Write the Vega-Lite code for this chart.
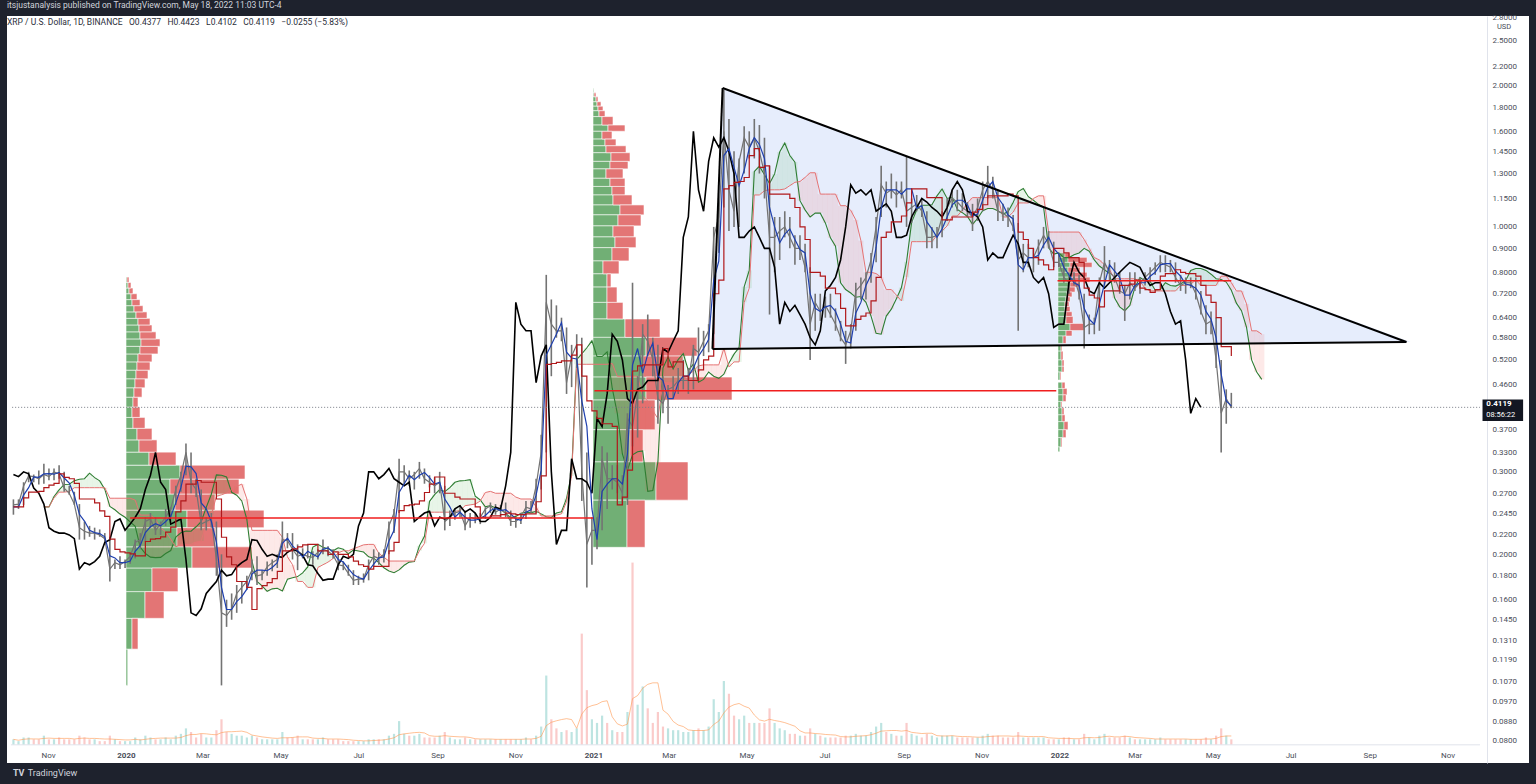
{
"$schema":"https://vega.github.io/schema/vega-lite/v6.json",
"width":1522,"height":747,
"autosize":{"type":"none"},
"padding":{"left":7,"top":16,"right":7,"bottom":21},
"background":"#1e222d",
"config":{"view":{"fill":"#ffffff","stroke":null},"font":"Roboto"},
"title":{"text":"itsjustanalysis published on TradingView.com, May 18, 2022 11:03 UTC-4","subtitle":"XRP / U.S. Dollar, 1D, BINANCE\u2002 O0.4377\u2002 H0.4423\u2002 L0.4102\u2002 C0.4119\u2002 −0.0255 (−5.83%)","anchor":"start","frame":"group","orient":"top","offset":-13,"font":"Roboto","fontSize":8.5,"fontWeight":"normal","color":"#d1d4dc","subtitleFont":"Roboto","subtitleFontSize":8.5,"subtitleColor":"#2a2e39","subtitlePadding":8},
"datasets":{
"px":[
{"d":"2019-10-01","h":0.262,"l":0.243,"c":0.255,"v":3},
{"d":"2019-10-05","h":0.262,"l":0.250,"c":0.256,"v":2},
{"d":"2019-10-09","h":0.285,"l":0.255,"c":0.280,"v":4},
{"d":"2019-10-13","h":0.300,"l":0.285,"c":0.294,"v":4},
{"d":"2019-10-17","h":0.296,"l":0.285,"c":0.293,"v":3},
{"d":"2019-10-21","h":0.302,"l":0.282,"c":0.290,"v":3},
{"d":"2019-10-25","h":0.312,"l":0.283,"c":0.296,"v":5},
{"d":"2019-10-29","h":0.305,"l":0.288,"c":0.293,"v":3},
{"d":"2019-11-02","h":0.305,"l":0.288,"c":0.300,"v":3},
{"d":"2019-11-06","h":0.310,"l":0.290,"c":0.297,"v":4},
{"d":"2019-11-10","h":0.300,"l":0.272,"c":0.277,"v":3},
{"d":"2019-11-14","h":0.280,"l":0.268,"c":0.270,"v":3},
{"d":"2019-11-18","h":0.272,"l":0.255,"c":0.256,"v":3},
{"d":"2019-11-22","h":0.256,"l":0.215,"c":0.228,"v":5},
{"d":"2019-11-26","h":0.235,"l":0.215,"c":0.224,"v":4},
{"d":"2019-11-30","h":0.230,"l":0.218,"c":0.222,"v":3},
{"d":"2019-12-04","h":0.228,"l":0.215,"c":0.222,"v":3},
{"d":"2019-12-08","h":0.226,"l":0.218,"c":0.220,"v":2},
{"d":"2019-12-12","h":0.222,"l":0.210,"c":0.216,"v":2},
{"d":"2019-12-16","h":0.218,"l":0.175,"c":0.186,"v":5},
{"d":"2019-12-20","h":0.195,"l":0.186,"c":0.192,"v":3},
{"d":"2019-12-24","h":0.198,"l":0.186,"c":0.190,"v":2},
{"d":"2019-12-28","h":0.195,"l":0.187,"c":0.193,"v":2},
{"d":"2020-01-01","h":0.200,"l":0.191,"c":0.198,"v":2},
{"d":"2020-01-05","h":0.215,"l":0.196,"c":0.212,"v":4},
{"d":"2020-01-09","h":0.222,"l":0.205,"c":0.215,"v":3},
{"d":"2020-01-13","h":0.240,"l":0.213,"c":0.235,"v":5},
{"d":"2020-01-17","h":0.245,"l":0.228,"c":0.238,"v":4},
{"d":"2020-01-21","h":0.240,"l":0.220,"c":0.225,"v":3},
{"d":"2020-01-25","h":0.235,"l":0.220,"c":0.232,"v":3},
{"d":"2020-01-29","h":0.250,"l":0.230,"c":0.240,"v":4},
{"d":"2020-02-02","h":0.252,"l":0.235,"c":0.250,"v":3},
{"d":"2020-02-06","h":0.280,"l":0.255,"c":0.275,"v":5},
{"d":"2020-02-10","h":0.300,"l":0.272,"c":0.295,"v":6},
{"d":"2020-02-14","h":0.345,"l":0.295,"c":0.330,"v":9},
{"d":"2020-02-18","h":0.330,"l":0.270,"c":0.285,"v":7},
{"d":"2020-02-22","h":0.290,"l":0.265,"c":0.275,"v":4},
{"d":"2020-02-26","h":0.275,"l":0.225,"c":0.232,"v":6},
{"d":"2020-03-01","h":0.240,"l":0.225,"c":0.235,"v":4},
{"d":"2020-03-05","h":0.245,"l":0.228,"c":0.238,"v":4},
{"d":"2020-03-09","h":0.235,"l":0.180,"c":0.195,"v":8},
{"d":"2020-03-13","h":0.200,"l":0.105,"c":0.150,"v":14},
{"d":"2020-03-17","h":0.160,"l":0.140,"c":0.148,"v":7},
{"d":"2020-03-21","h":0.165,"l":0.145,"c":0.153,"v":6},
{"d":"2020-03-25","h":0.172,"l":0.150,"c":0.165,"v":5},
{"d":"2020-03-29","h":0.175,"l":0.157,"c":0.170,"v":5},
{"d":"2020-04-02","h":0.180,"l":0.168,"c":0.175,"v":4},
{"d":"2020-04-06","h":0.195,"l":0.176,"c":0.185,"v":5},
{"d":"2020-04-10","h":0.198,"l":0.172,"c":0.180,"v":4},
{"d":"2020-04-14","h":0.185,"l":0.176,"c":0.181,"v":3},
{"d":"2020-04-18","h":0.193,"l":0.180,"c":0.188,"v":3},
{"d":"2020-04-22","h":0.195,"l":0.184,"c":0.192,"v":3},
{"d":"2020-04-26","h":0.200,"l":0.187,"c":0.195,"v":3},
{"d":"2020-04-30","h":0.235,"l":0.198,"c":0.215,"v":7},
{"d":"2020-05-04","h":0.222,"l":0.206,"c":0.214,"v":4},
{"d":"2020-05-08","h":0.222,"l":0.195,"c":0.205,"v":4},
{"d":"2020-05-12","h":0.210,"l":0.185,"c":0.198,"v":5},
{"d":"2020-05-16","h":0.206,"l":0.196,"c":0.200,"v":3},
{"d":"2020-05-20","h":0.210,"l":0.196,"c":0.198,"v":3},
{"d":"2020-05-24","h":0.203,"l":0.190,"c":0.197,"v":3},
{"d":"2020-05-28","h":0.205,"l":0.195,"c":0.202,"v":3},
{"d":"2020-06-01","h":0.215,"l":0.200,"c":0.205,"v":4},
{"d":"2020-06-05","h":0.208,"l":0.198,"c":0.203,"v":3},
{"d":"2020-06-09","h":0.205,"l":0.196,"c":0.199,"v":3},
{"d":"2020-06-13","h":0.200,"l":0.185,"c":0.190,"v":3},
{"d":"2020-06-17","h":0.193,"l":0.185,"c":0.189,"v":2},
{"d":"2020-06-21","h":0.190,"l":0.180,"c":0.182,"v":2},
{"d":"2020-06-25","h":0.185,"l":0.172,"c":0.176,"v":2},
{"d":"2020-06-29","h":0.180,"l":0.172,"c":0.177,"v":2},
{"d":"2020-07-03","h":0.182,"l":0.174,"c":0.177,"v":2},
{"d":"2020-07-07","h":0.195,"l":0.176,"c":0.190,"v":3},
{"d":"2020-07-11","h":0.205,"l":0.188,"c":0.198,"v":3},
{"d":"2020-07-15","h":0.202,"l":0.190,"c":0.196,"v":3},
{"d":"2020-07-19","h":0.205,"l":0.192,"c":0.200,"v":3},
{"d":"2020-07-23","h":0.235,"l":0.200,"c":0.230,"v":5},
{"d":"2020-07-27","h":0.250,"l":0.222,"c":0.245,"v":6},
{"d":"2020-07-31","h":0.320,"l":0.245,"c":0.300,"v":13},
{"d":"2020-08-04","h":0.310,"l":0.280,"c":0.300,"v":6},
{"d":"2020-08-08","h":0.302,"l":0.280,"c":0.290,"v":5},
{"d":"2020-08-12","h":0.300,"l":0.275,"c":0.296,"v":5},
{"d":"2020-08-16","h":0.315,"l":0.290,"c":0.305,"v":6},
{"d":"2020-08-20","h":0.305,"l":0.283,"c":0.290,"v":4},
{"d":"2020-08-24","h":0.295,"l":0.278,"c":0.285,"v":4},
{"d":"2020-08-28","h":0.292,"l":0.270,"c":0.280,"v":4},
{"d":"2020-09-01","h":0.300,"l":0.270,"c":0.285,"v":5},
{"d":"2020-09-05","h":0.280,"l":0.225,"c":0.235,"v":7},
{"d":"2020-09-09","h":0.248,"l":0.230,"c":0.240,"v":4},
{"d":"2020-09-13","h":0.250,"l":0.237,"c":0.245,"v":3},
{"d":"2020-09-17","h":0.255,"l":0.240,"c":0.247,"v":3},
{"d":"2020-09-21","h":0.248,"l":0.225,"c":0.230,"v":4},
{"d":"2020-09-25","h":0.245,"l":0.228,"c":0.240,"v":3},
{"d":"2020-09-29","h":0.245,"l":0.233,"c":0.238,"v":3},
{"d":"2020-10-03","h":0.245,"l":0.232,"c":0.240,"v":3},
{"d":"2020-10-07","h":0.252,"l":0.238,"c":0.250,"v":3},
{"d":"2020-10-11","h":0.258,"l":0.245,"c":0.254,"v":3},
{"d":"2020-10-15","h":0.256,"l":0.243,"c":0.246,"v":3},
{"d":"2020-10-19","h":0.255,"l":0.240,"c":0.250,"v":3},
{"d":"2020-10-23","h":0.258,"l":0.240,"c":0.245,"v":3},
{"d":"2020-10-27","h":0.248,"l":0.230,"c":0.235,"v":3},
{"d":"2020-10-31","h":0.240,"l":0.228,"c":0.235,"v":3},
{"d":"2020-11-04","h":0.245,"l":0.232,"c":0.240,"v":3},
{"d":"2020-11-08","h":0.260,"l":0.238,"c":0.252,"v":4},
{"d":"2020-11-12","h":0.260,"l":0.245,"c":0.250,"v":3},
{"d":"2020-11-16","h":0.290,"l":0.245,"c":0.280,"v":5},
{"d":"2020-11-20","h":0.360,"l":0.275,"c":0.330,"v":10},
{"d":"2020-11-24","h":0.790,"l":0.330,"c":0.690,"v":38},
{"d":"2020-11-28","h":0.700,"l":0.480,"c":0.620,"v":14},
{"d":"2020-12-02","h":0.680,"l":0.580,"c":0.600,"v":9},
{"d":"2020-12-06","h":0.640,"l":0.570,"c":0.600,"v":7},
{"d":"2020-12-10","h":0.610,"l":0.440,"c":0.465,"v":8},
{"d":"2020-12-14","h":0.560,"l":0.455,"c":0.530,"v":7},
{"d":"2020-12-18","h":0.590,"l":0.500,"c":0.560,"v":9},
{"d":"2020-12-22","h":0.580,"l":0.260,"c":0.300,"v":61},
{"d":"2020-12-26","h":0.330,"l":0.170,"c":0.210,"v":30},
{"d":"2020-12-30","h":0.240,"l":0.190,"c":0.225,"v":14},
{"d":"2021-01-03","h":0.240,"l":0.205,"c":0.225,"v":12},
{"d":"2021-01-07","h":0.340,"l":0.225,"c":0.320,"v":16},
{"d":"2021-01-11","h":0.330,"l":0.250,"c":0.290,"v":12},
{"d":"2021-01-15","h":0.310,"l":0.275,"c":0.290,"v":8},
{"d":"2021-01-19","h":0.310,"l":0.270,"c":0.285,"v":7},
{"d":"2021-01-23","h":0.295,"l":0.255,"c":0.270,"v":7},
{"d":"2021-01-27","h":0.400,"l":0.255,"c":0.390,"v":18},
{"d":"2021-01-31","h":0.760,"l":0.340,"c":0.375,"v":100},
{"d":"2021-02-04","h":0.480,"l":0.355,"c":0.440,"v":22},
{"d":"2021-02-08","h":0.620,"l":0.420,"c":0.590,"v":32},
{"d":"2021-02-12","h":0.650,"l":0.530,"c":0.570,"v":20},
{"d":"2021-02-16","h":0.580,"l":0.480,"c":0.520,"v":12},
{"d":"2021-02-20","h":0.560,"l":0.380,"c":0.430,"v":18},
{"d":"2021-02-24","h":0.480,"l":0.400,"c":0.420,"v":10},
{"d":"2021-02-28","h":0.460,"l":0.380,"c":0.450,"v":9},
{"d":"2021-03-04","h":0.480,"l":0.430,"c":0.455,"v":8},
{"d":"2021-03-08","h":0.500,"l":0.440,"c":0.470,"v":8},
{"d":"2021-03-12","h":0.520,"l":0.450,"c":0.470,"v":7},
{"d":"2021-03-16","h":0.500,"l":0.440,"c":0.470,"v":7},
{"d":"2021-03-20","h":0.560,"l":0.450,"c":0.550,"v":8},
{"d":"2021-03-24","h":0.610,"l":0.490,"c":0.540,"v":9},
{"d":"2021-03-28","h":0.600,"l":0.530,"c":0.570,"v":8},
{"d":"2021-04-01","h":0.620,"l":0.540,"c":0.600,"v":10},
{"d":"2021-04-05","h":1.000,"l":0.590,"c":0.950,"v":25},
{"d":"2021-04-09","h":1.100,"l":0.880,"c":1.050,"v":18},
{"d":"2021-04-13","h":1.960,"l":1.100,"c":1.600,"v":35},
{"d":"2021-04-17","h":1.700,"l":0.980,"c":1.200,"v":28},
{"d":"2021-04-21","h":1.450,"l":1.000,"c":1.080,"v":16},
{"d":"2021-04-25","h":1.400,"l":1.000,"c":1.380,"v":14},
{"d":"2021-04-29","h":1.640,"l":1.300,"c":1.550,"v":16},
{"d":"2021-05-03","h":1.600,"l":1.400,"c":1.480,"v":12},
{"d":"2021-05-07","h":1.700,"l":1.400,"c":1.550,"v":12},
{"d":"2021-05-11","h":1.650,"l":1.300,"c":1.450,"v":12},
{"d":"2021-05-15","h":1.550,"l":1.150,"c":1.300,"v":12},
{"d":"2021-05-19","h":1.350,"l":0.650,"c":0.950,"v":20},
{"d":"2021-05-23","h":1.050,"l":0.800,"c":0.950,"v":12},
{"d":"2021-05-27","h":1.050,"l":0.850,"c":0.980,"v":9},
{"d":"2021-05-31","h":1.080,"l":0.950,"c":1.000,"v":8},
{"d":"2021-06-04","h":1.050,"l":0.900,"c":0.950,"v":6},
{"d":"2021-06-08","h":0.960,"l":0.830,"c":0.900,"v":6},
{"d":"2021-06-12","h":0.960,"l":0.850,"c":0.900,"v":5},
{"d":"2021-06-16","h":0.920,"l":0.800,"c":0.820,"v":5},
{"d":"2021-06-20","h":0.820,"l":0.520,"c":0.620,"v":9},
{"d":"2021-06-24","h":0.720,"l":0.600,"c":0.690,"v":6},
{"d":"2021-06-28","h":0.720,"l":0.630,"c":0.660,"v":5},
{"d":"2021-07-02","h":0.710,"l":0.640,"c":0.680,"v":4},
{"d":"2021-07-06","h":0.720,"l":0.640,"c":0.650,"v":4},
{"d":"2021-07-10","h":0.670,"l":0.600,"c":0.620,"v":4},
{"d":"2021-07-14","h":0.630,"l":0.570,"c":0.580,"v":4},
{"d":"2021-07-18","h":0.600,"l":0.510,"c":0.560,"v":5},
{"d":"2021-07-22","h":0.620,"l":0.550,"c":0.600,"v":5},
{"d":"2021-07-26","h":0.760,"l":0.600,"c":0.730,"v":6},
{"d":"2021-07-30","h":0.780,"l":0.700,"c":0.750,"v":5},
{"d":"2021-08-03","h":0.800,"l":0.700,"c":0.780,"v":5},
{"d":"2021-08-07","h":0.880,"l":0.760,"c":0.850,"v":7},
{"d":"2021-08-11","h":1.050,"l":0.840,"c":1.000,"v":10},
{"d":"2021-08-15","h":1.350,"l":1.050,"c":1.230,"v":12},
{"d":"2021-08-19","h":1.250,"l":1.100,"c":1.180,"v":7},
{"d":"2021-08-23","h":1.300,"l":1.150,"c":1.200,"v":6},
{"d":"2021-08-27","h":1.250,"l":1.100,"c":1.170,"v":5},
{"d":"2021-08-31","h":1.250,"l":1.150,"c":1.200,"v":5},
{"d":"2021-09-04","h":1.410,"l":1.000,"c":1.080,"v":12},
{"d":"2021-09-08","h":1.150,"l":1.020,"c":1.100,"v":6},
{"d":"2021-09-12","h":1.170,"l":1.080,"c":1.120,"v":5},
{"d":"2021-09-16","h":1.150,"l":1.050,"c":1.080,"v":4},
{"d":"2021-09-20","h":1.080,"l":0.900,"c":0.950,"v":6},
{"d":"2021-09-24","h":1.000,"l":0.900,"c":0.950,"v":5},
{"d":"2021-09-28","h":1.000,"l":0.900,"c":0.960,"v":4},
{"d":"2021-10-02","h":1.080,"l":0.950,"c":1.050,"v":5},
{"d":"2021-10-06","h":1.150,"l":1.030,"c":1.100,"v":5},
{"d":"2021-10-10","h":1.200,"l":1.100,"c":1.150,"v":5},
{"d":"2021-10-14","h":1.200,"l":1.080,"c":1.130,"v":4},
{"d":"2021-10-18","h":1.180,"l":1.080,"c":1.100,"v":4},
{"d":"2021-10-22","h":1.130,"l":1.050,"c":1.080,"v":4},
{"d":"2021-10-26","h":1.120,"l":0.980,"c":1.050,"v":4},
{"d":"2021-10-30","h":1.150,"l":1.030,"c":1.100,"v":4},
{"d":"2021-11-03","h":1.250,"l":1.080,"c":1.200,"v":5},
{"d":"2021-11-07","h":1.350,"l":1.150,"c":1.250,"v":6},
{"d":"2021-11-11","h":1.280,"l":1.150,"c":1.200,"v":5},
{"d":"2021-11-15","h":1.200,"l":1.030,"c":1.080,"v":5},
{"d":"2021-11-19","h":1.120,"l":1.030,"c":1.070,"v":4},
{"d":"2021-11-23","h":1.100,"l":1.000,"c":1.050,"v":4},
{"d":"2021-11-27","h":1.060,"l":0.980,"c":1.000,"v":4},
{"d":"2021-12-01","h":1.020,"l":0.600,"c":0.850,"v":7},
{"d":"2021-12-05","h":0.920,"l":0.800,"c":0.880,"v":4},
{"d":"2021-12-09","h":0.920,"l":0.820,"c":0.860,"v":4},
{"d":"2021-12-13","h":0.900,"l":0.800,"c":0.860,"v":4},
{"d":"2021-12-17","h":0.940,"l":0.830,"c":0.910,"v":4},
{"d":"2021-12-21","h":1.000,"l":0.900,"c":0.960,"v":4},
{"d":"2021-12-25","h":0.980,"l":0.900,"c":0.920,"v":3},
{"d":"2021-12-29","h":0.930,"l":0.820,"c":0.840,"v":3},
{"d":"2022-01-02","h":0.880,"l":0.820,"c":0.840,"v":3},
{"d":"2022-01-06","h":0.860,"l":0.760,"c":0.780,"v":4},
{"d":"2022-01-10","h":0.800,"l":0.720,"c":0.760,"v":4},
{"d":"2022-01-14","h":0.800,"l":0.750,"c":0.780,"v":3},
{"d":"2022-01-18","h":0.790,"l":0.700,"c":0.720,"v":3},
{"d":"2022-01-22","h":0.720,"l":0.550,"c":0.610,"v":6},
{"d":"2022-01-26","h":0.650,"l":0.590,"c":0.620,"v":4},
{"d":"2022-01-30","h":0.640,"l":0.590,"c":0.620,"v":3},
{"d":"2022-02-03","h":0.780,"l":0.600,"c":0.760,"v":5},
{"d":"2022-02-07","h":0.910,"l":0.750,"c":0.840,"v":6},
{"d":"2022-02-11","h":0.850,"l":0.770,"c":0.800,"v":4},
{"d":"2022-02-15","h":0.840,"l":0.760,"c":0.780,"v":4},
{"d":"2022-02-19","h":0.800,"l":0.720,"c":0.730,"v":4},
{"d":"2022-02-23","h":0.750,"l":0.630,"c":0.720,"v":5},
{"d":"2022-02-27","h":0.800,"l":0.700,"c":0.760,"v":4},
{"d":"2022-03-03","h":0.800,"l":0.730,"c":0.740,"v":3},
{"d":"2022-03-07","h":0.780,"l":0.720,"c":0.760,"v":3},
{"d":"2022-03-11","h":0.800,"l":0.750,"c":0.780,"v":3},
{"d":"2022-03-15","h":0.820,"l":0.760,"c":0.800,"v":3},
{"d":"2022-03-19","h":0.840,"l":0.790,"c":0.820,"v":3},
{"d":"2022-03-23","h":0.870,"l":0.800,"c":0.840,"v":4},
{"d":"2022-03-27","h":0.870,"l":0.800,"c":0.830,"v":3},
{"d":"2022-03-31","h":0.850,"l":0.800,"c":0.820,"v":3},
{"d":"2022-04-04","h":0.840,"l":0.760,"c":0.780,"v":3},
{"d":"2022-04-08","h":0.790,"l":0.730,"c":0.750,"v":3},
{"d":"2022-04-12","h":0.780,"l":0.720,"c":0.760,"v":3},
{"d":"2022-04-16","h":0.780,"l":0.740,"c":0.760,"v":3},
{"d":"2022-04-20","h":0.780,"l":0.700,"c":0.720,"v":3},
{"d":"2022-04-24","h":0.730,"l":0.650,"c":0.660,"v":3},
{"d":"2022-04-28","h":0.680,"l":0.590,"c":0.620,"v":4},
{"d":"2022-05-02","h":0.660,"l":0.590,"c":0.630,"v":3},
{"d":"2022-05-06","h":0.640,"l":0.500,"c":0.520,"v":5},
{"d":"2022-05-10","h":0.520,"l":0.330,"c":0.400,"v":9},
{"d":"2022-05-14","h":0.450,"l":0.380,"c":0.430,"v":5},
{"d":"2022-05-18","h":0.4423,"l":0.4102,"c":0.4119,"v":3},
{"d":"2022-05-22"},{"d":"2022-05-26"},{"d":"2022-05-30"},{"d":"2022-06-03"},{"d":"2022-06-07"},{"d":"2022-06-11"}
],
"pa":[
{"lo":0.105,"hi":0.1255,"g":2,"t":2},{"lo":0.1255,"hi":0.146,"g":6,"t":12},{"lo":0.146,"hi":0.1665,"g":19,"t":38},{"lo":0.1665,"hi":0.187,"g":26,"t":52},
{"lo":0.187,"hi":0.2075,"g":66,"t":126},{"lo":0.2075,"hi":0.228,"g":51,"t":89},{"lo":0.228,"hi":0.2485,"g":61,"t":138},{"lo":0.2485,"hi":0.269,"g":49,"t":89},
{"lo":0.269,"hi":0.2895,"g":44,"t":113},{"lo":0.2895,"hi":0.31,"g":54,"t":119},{"lo":0.31,"hi":0.3305,"g":23,"t":50},{"lo":0.3305,"hi":0.351,"g":13,"t":31},
{"lo":0.351,"hi":0.3715,"g":11,"t":26},{"lo":0.3715,"hi":0.392,"g":7,"t":19},{"lo":0.392,"hi":0.4125,"g":6,"t":14},{"lo":0.4125,"hi":0.433,"g":7,"t":12},
{"lo":0.433,"hi":0.4535,"g":8,"t":16},{"lo":0.4535,"hi":0.474,"g":9,"t":19},{"lo":0.474,"hi":0.4945,"g":10,"t":22},{"lo":0.4945,"hi":0.515,"g":11,"t":24},
{"lo":0.515,"hi":0.5355,"g":12,"t":26},{"lo":0.5355,"hi":0.556,"g":14,"t":32},{"lo":0.556,"hi":0.5765,"g":15,"t":34},{"lo":0.5765,"hi":0.597,"g":14,"t":30},
{"lo":0.597,"hi":0.6175,"g":13,"t":26},{"lo":0.6175,"hi":0.638,"g":12,"t":24},{"lo":0.638,"hi":0.6585,"g":10,"t":21},{"lo":0.6585,"hi":0.679,"g":8,"t":17},
{"lo":0.679,"hi":0.6995,"g":6,"t":14},{"lo":0.6995,"hi":0.72,"g":5,"t":11},{"lo":0.72,"hi":0.7405,"g":3,"t":7},{"lo":0.7405,"hi":0.761,"g":2,"t":5},{"lo":0.761,"hi":0.7815,"g":1,"t":3}
],
"pb":[
{"lo":1.933,"hi":1.971,"g":1,"t":1},{"lo":1.896,"hi":1.933,"g":1,"t":3},{"lo":1.85,"hi":1.896,"g":3,"t":5},{"lo":1.81,"hi":1.85,"g":4,"t":8},
{"lo":1.77,"hi":1.81,"g":5,"t":10},{"lo":1.72,"hi":1.77,"g":6,"t":12},{"lo":1.65,"hi":1.72,"g":9,"t":20},{"lo":1.60,"hi":1.65,"g":15,"t":32},
{"lo":1.54,"hi":1.60,"g":9,"t":19},{"lo":1.49,"hi":1.54,"g":12,"t":23},{"lo":1.44,"hi":1.49,"g":13,"t":33},{"lo":1.38,"hi":1.44,"g":18,"t":37},
{"lo":1.33,"hi":1.38,"g":17,"t":35},{"lo":1.27,"hi":1.33,"g":13,"t":30},{"lo":1.22,"hi":1.27,"g":17,"t":32},{"lo":1.17,"hi":1.22,"g":19,"t":32},
{"lo":1.114,"hi":1.17,"g":20,"t":39},{"lo":1.061,"hi":1.114,"g":27,"t":51},{"lo":1.005,"hi":1.061,"g":25,"t":48},{"lo":0.952,"hi":1.005,"g":20,"t":41},
{"lo":0.903,"hi":0.952,"g":22,"t":43},{"lo":0.846,"hi":0.903,"g":19,"t":36},{"lo":0.794,"hi":0.846,"g":10,"t":26},{"lo":0.744,"hi":0.794,"g":14,"t":18},
{"lo":0.690,"hi":0.744,"g":14,"t":24},{"lo":0.636,"hi":0.690,"g":14,"t":30},{"lo":0.581,"hi":0.636,"g":32,"t":67},{"lo":0.530,"hi":0.581,"g":53,"t":104},
{"lo":0.478,"hi":0.530,"g":50,"t":90},{"lo":0.427,"hi":0.478,"g":53,"t":139},{"lo":0.369,"hi":0.427,"g":40,"t":62},{"lo":0.315,"hi":0.369,"g":37,"t":50},
{"lo":0.261,"hi":0.315,"g":63,"t":95},{"lo":0.207,"hi":0.261,"g":34,"t":52}
],
"pc":[
{"lo":0.861,"hi":0.880,"g":7,"t":12},{"lo":0.840,"hi":0.861,"g":10,"t":29},{"lo":0.820,"hi":0.840,"g":12,"t":34},{"lo":0.800,"hi":0.820,"g":10,"t":22},
{"lo":0.781,"hi":0.800,"g":12,"t":29},{"lo":0.762,"hi":0.781,"g":14,"t":32},{"lo":0.744,"hi":0.762,"g":12,"t":22},{"lo":0.726,"hi":0.744,"g":10,"t":17},
{"lo":0.709,"hi":0.726,"g":9,"t":14},{"lo":0.692,"hi":0.709,"g":8,"t":12},{"lo":0.676,"hi":0.692,"g":7,"t":11},{"lo":0.659,"hi":0.676,"g":7,"t":12},
{"lo":0.644,"hi":0.659,"g":8,"t":14},{"lo":0.622,"hi":0.644,"g":8,"t":15},{"lo":0.601,"hi":0.622,"g":12,"t":27},{"lo":0.585,"hi":0.601,"g":8,"t":14},
{"lo":0.564,"hi":0.585,"g":5,"t":8},{"lo":0.543,"hi":0.560,"g":3,"t":4},{"lo":0.520,"hi":0.543,"g":3,"t":5},{"lo":0.504,"hi":0.520,"g":4,"t":6},
{"lo":0.490,"hi":0.504,"g":4,"t":6},{"lo":0.471,"hi":0.490,"g":2,"t":3},{"lo":0.452,"hi":0.466,"g":4,"t":7},{"lo":0.438,"hi":0.452,"g":5,"t":9},
{"lo":0.424,"hi":0.438,"g":5,"t":8},{"lo":0.411,"hi":0.424,"g":3,"t":4},{"lo":0.397,"hi":0.411,"g":4,"t":6},{"lo":0.384,"hi":0.397,"g":4,"t":7},
{"lo":0.369,"hi":0.384,"g":6,"t":10},{"lo":0.355,"hi":0.369,"g":5,"t":8},{"lo":0.339,"hi":0.355,"g":3,"t":4},{"lo":0.331,"hi":0.339,"g":2,"t":2}
],
"tri":[{"d":"2021-04-04","t":0.549,"b":0.549},{"d":"2021-04-12","t":1.98,"b":0.5494},{"d":"2022-10-03","t":0.568,"b":0.568}],
"edges":[{"d1":"2021-04-04","p1":0.549,"d2":"2021-04-12","p2":1.98},{"d1":"2021-04-12","p1":1.98,"d2":"2022-10-03","p2":0.568},{"d1":"2021-04-04","p1":0.549,"d2":"2022-10-03","p2":0.568}],
"poc":[{"d1":"2020-01-01","d2":"2020-12-31","p":0.239},{"d1":"2021-01-01","d2":"2021-12-31","p":0.447},{"d1":"2022-01-01","d2":"2022-05-18","p":0.767}]
},
"resolve":{"scale":{"x":"independent","y":"independent"},"axis":{"x":"independent","y":"independent"}},
"layer":[
{"data":{"name":"tri"},"mark":{"type":"area","color":"#2f6fe8","opacity":0.12},
 "encoding":{"x":{"field":"d","type":"temporal","scale":{"type":"utc","domain":[1569790800000,1672764480000],"nice":false},"axis":null},
  "y":{"field":"t","type":"quantitative","scale":{"type":"log","domain":[0.0717,2.82],"nice":false},"axis":null},"y2":{"field":"b"}}},
{"data":{"name":"pa"},"encoding":{"y":{"field":"lo","type":"quantitative","scale":{"type":"log","domain":[0.0717,2.82],"nice":false},"axis":null},"y2":{"field":"hi"}},
 "layer":[
  {"mark":{"type":"rect","fill":"#5ea562","opacity":0.88,"stroke":"#ffffff","strokeWidth":0.6},"encoding":{"x":{"field":"g","type":"quantitative","scale":{"domain":[-119,1403],"nice":false,"zero":false},"axis":null},"x2":{"datum":0}}},
  {"mark":{"type":"rect","fill":"#e06262","opacity":0.88,"stroke":"#ffffff","strokeWidth":0.6},"encoding":{"x":{"field":"g","type":"quantitative","scale":{"domain":[-119,1403],"nice":false,"zero":false},"axis":null},"x2":{"field":"t"}}}
 ]},
{"data":{"name":"pb"},"encoding":{"y":{"field":"lo","type":"quantitative","scale":{"type":"log","domain":[0.0717,2.82],"nice":false},"axis":null},"y2":{"field":"hi"}},
 "layer":[
  {"mark":{"type":"rect","fill":"#5ea562","opacity":0.88,"stroke":"#ffffff","strokeWidth":0.6},"encoding":{"x":{"field":"g","type":"quantitative","scale":{"domain":[-586,936],"nice":false,"zero":false},"axis":null},"x2":{"datum":0}}},
  {"mark":{"type":"rect","fill":"#e06262","opacity":0.88,"stroke":"#ffffff","strokeWidth":0.6},"encoding":{"x":{"field":"g","type":"quantitative","scale":{"domain":[-586,936],"nice":false,"zero":false},"axis":null},"x2":{"field":"t"}}}
 ]},
{"data":{"name":"pc"},"encoding":{"y":{"field":"lo","type":"quantitative","scale":{"type":"log","domain":[0.0717,2.82],"nice":false},"axis":null},"y2":{"field":"hi"}},
 "layer":[
  {"mark":{"type":"rect","fill":"#5ea562","opacity":0.88,"stroke":"#ffffff","strokeWidth":0.5},"encoding":{"x":{"field":"g","type":"quantitative","scale":{"domain":[-1051,471],"nice":false,"zero":false},"axis":null},"x2":{"datum":0}}},
  {"mark":{"type":"rect","fill":"#e06262","opacity":0.88,"stroke":"#ffffff","strokeWidth":0.5},"encoding":{"x":{"field":"g","type":"quantitative","scale":{"domain":[-1051,471],"nice":false,"zero":false},"axis":null},"x2":{"field":"t"}}}
 ]},
{"data":{"name":"px"},
 "transform":[{"filter":"isValid(datum.c)"},
  {"window":[{"op":"lag","field":"c","param":1,"as":"pc"}],"sort":[{"field":"d"}]},
  {"window":[{"op":"mean","field":"v","as":"vm"}],"sort":[{"field":"d"}],"frame":[-5,0]}],
 "encoding":{"x":{"field":"d","type":"temporal","scale":{"type":"utc","domain":[1569790800000,1672764480000],"nice":false},"axis":null}},
 "layer":[
  {"mark":{"type":"bar","size":2.2,"opacity":0.3},"encoding":{"y":{"field":"v","type":"quantitative","scale":{"domain":[-10,400],"nice":false,"zero":false},"axis":null},"color":{"condition":{"test":"datum.c >= datum.pc","value":"#26a69a"},"value":"#ef5350"}}},
  {"mark":{"type":"line","color":"#ff9850","strokeWidth":1,"opacity":0.6},"encoding":{"y":{"field":"vm","type":"quantitative","scale":{"domain":[-10,400],"nice":false,"zero":false},"axis":null}}}
 ]},
{"layer":[
 {"data":{"name":"px"},
  "transform":[
   {"window":[{"op":"max","field":"h","as":"h9"},{"op":"min","field":"l","as":"l9"}],"sort":[{"field":"d"}],"frame":[-1,0]},
   {"window":[{"op":"max","field":"h","as":"h26"},{"op":"min","field":"l","as":"l26"}],"sort":[{"field":"d"}],"frame":[-6,0]},
   {"window":[{"op":"max","field":"h","as":"h52"},{"op":"min","field":"l","as":"l52"}],"sort":[{"field":"d"}],"frame":[-12,0]},
   {"fold":["h52","l52"],"as":["k1","v1"]},
   {"aggregate":[{"op":"mean","field":"v1","as":"B"}],"groupby":["d","h9","l9","h26","l26"]},
   {"fold":["h9","l9","h26","l26"],"as":["k2","v2"]},
   {"aggregate":[{"op":"mean","field":"v2","as":"A"}],"groupby":["d","B"]},
   {"window":[{"op":"lag","field":"A","param":6,"as":"sa"},{"op":"lag","field":"B","param":6,"as":"sb"}],"sort":[{"field":"d"}]},
   {"filter":"isValid(datum.sa) && isValid(datum.sb)"}],
  "encoding":{"x":{"field":"d","type":"temporal","scale":{"type":"utc","domain":[1569790800000,1672764480000],"nice":false},"axis":null}},
  "layer":[
   {"mark":{"type":"bar","size":5.2,"opacity":0.13},"encoding":{"y":{"field":"sa","type":"quantitative","scale":{"type":"log","domain":[0.0717,2.82],"nice":false},"axis":null},"y2":{"field":"sb"},
     "color":{"condition":{"test":"datum.sa >= datum.sb","value":"#4caf50"},"value":"#ef5350"}}},
   {"mark":{"type":"line","color":"#2e7d32","strokeWidth":1.1},"encoding":{"y":{"field":"sa","type":"quantitative","scale":{"type":"log","domain":[0.0717,2.82],"nice":false},"axis":null}}},
   {"mark":{"type":"line","color":"#e57373","strokeWidth":1},"encoding":{"y":{"field":"sb","type":"quantitative","scale":{"type":"log","domain":[0.0717,2.82],"nice":false},"axis":null}}}
  ]},
 {"data":{"name":"px"},"transform":[{"filter":"isValid(datum.c)"}],
  "encoding":{"x":{"field":"d","type":"temporal","scale":{"type":"utc","domain":[1569790800000,1672764480000],"nice":false},"axis":null}},
  "layer":[
   {"mark":{"type":"rule","color":"#737373","strokeWidth":1.6},"encoding":{"y":{"field":"l","type":"quantitative","scale":{"type":"log","domain":[0.0717,2.82],"nice":false},"axis":null},"y2":{"field":"h"}}},
   {"mark":{"type":"line","color":"#737373","strokeWidth":1.2},"encoding":{"y":{"field":"c","type":"quantitative","scale":{"type":"log","domain":[0.0717,2.82],"nice":false},"axis":null}}}
  ]},
 {"data":{"name":"px"},"transform":[{"filter":"isValid(datum.c)"},{"window":[{"op":"lead","field":"c","param":6,"as":"ck"}],"sort":[{"field":"d"}]},{"filter":"isValid(datum.ck)"}],
  "mark":{"type":"line","color":"#000000","strokeWidth":1.6},
  "encoding":{"x":{"field":"d","type":"temporal","scale":{"type":"utc","domain":[1569790800000,1672764480000],"nice":false},"axis":null},"y":{"field":"ck","type":"quantitative","scale":{"type":"log","domain":[0.0717,2.82],"nice":false},"axis":null}}},
 {"data":{"name":"px"},"transform":[{"filter":"isValid(datum.c)"},
   {"window":[{"op":"max","field":"h","as":"hh"},{"op":"min","field":"l","as":"ll"}],"sort":[{"field":"d"}],"frame":[-1,0]},
   {"fold":["hh","ll"],"as":["k","val"]},{"aggregate":[{"op":"mean","field":"val","as":"tk"}],"groupby":["d"]}],
  "mark":{"type":"line","color":"#1e3fae","strokeWidth":1.2},
  "encoding":{"x":{"field":"d","type":"temporal","scale":{"type":"utc","domain":[1569790800000,1672764480000],"nice":false},"axis":null},"y":{"field":"tk","type":"quantitative","scale":{"type":"log","domain":[0.0717,2.82],"nice":false},"axis":null}}},
 {"data":{"name":"px"},"transform":[{"filter":"isValid(datum.c)"},
   {"window":[{"op":"max","field":"h","as":"hh"},{"op":"min","field":"l","as":"ll"}],"sort":[{"field":"d"}],"frame":[-6,0]},
   {"fold":["hh","ll"],"as":["k","val"]},{"aggregate":[{"op":"mean","field":"val","as":"kj"}],"groupby":["d"]}],
  "mark":{"type":"line","color":"#b0181b","strokeWidth":1.2,"interpolate":"step-after"},
  "encoding":{"x":{"field":"d","type":"temporal","scale":{"type":"utc","domain":[1569790800000,1672764480000],"nice":false},"axis":null},"y":{"field":"kj","type":"quantitative","scale":{"type":"log","domain":[0.0717,2.82],"nice":false},"axis":null}}},
 {"data":{"name":"poc"},"mark":{"type":"rule","color":"#f01e1e","strokeWidth":1.5},
  "encoding":{"x":{"field":"d1","type":"temporal","scale":{"type":"utc","domain":[1569790800000,1672764480000],"nice":false},"axis":null},"x2":{"field":"d2"},"y":{"field":"p","type":"quantitative","scale":{"type":"log","domain":[0.0717,2.82],"nice":false},"axis":null}}},
 {"data":{"name":"edges"},"mark":{"type":"rule","color":"#000000","strokeWidth":2},
  "encoding":{"x":{"field":"d1","type":"temporal","scale":{"type":"utc","domain":[1569790800000,1672764480000],"nice":false},"axis":null},"x2":{"field":"d2"},"y":{"field":"p1","type":"quantitative","scale":{"type":"log","domain":[0.0717,2.82],"nice":false},"axis":null},"y2":{"field":"p2"}}},
 {"data":{"values":[{}]},"mark":{"type":"rule","color":"#787b86","strokeWidth":1,"strokeDash":[1,2]},
  "encoding":{"x":{"datum":{"year":2019,"month":9,"date":30,"utc":true},"type":"temporal","scale":{"type":"utc","domain":[1569790800000,1672764480000],"nice":false},"axis":null},"x2":{"datum":{"year":2022,"month":11,"date":30,"utc":true}},"y":{"datum":0.4119,"type":"quantitative","scale":{"type":"log","domain":[0.0717,2.82],"nice":false},"axis":null}}},
 {"data":{"values":[{}]},"mark":{"type":"rule","color":"#e0e3eb","strokeWidth":1},
  "encoding":{"x":{"datum":{"year":2019,"month":9,"date":29,"utc":true},"type":"temporal","scale":{"type":"utc","domain":[1569790800000,1672764480000],"nice":false},"axis":null},"x2":{"datum":{"year":2022,"month":11,"date":30,"utc":true}},"y":{"datum":0.0784,"type":"quantitative","scale":{"type":"log","domain":[0.0717,2.82],"nice":false},"axis":null}}},
 {"data":{"values":[{}]},"mark":{"type":"rect","color":"#131722"},
  "encoding":{"x":{"datum":{"year":2022,"month":12,"date":2,"utc":true},"type":"temporal","scale":{"type":"utc","domain":[1569790800000,1672764480000],"nice":false},"axis":null},"x2":{"datum":{"year":2023,"month":1,"date":3,"utc":true}},"y":{"datum":0.428,"type":"quantitative","scale":{"type":"log","domain":[0.0717,2.82],"nice":false},"axis":null},"y2":{"datum":0.385}}},
 {"data":{"values":[{}]},"mark":{"type":"text","text":"0.4119","align":"left","baseline":"middle","color":"#ffffff","fontSize":8,"fontWeight":"bold","font":"Roboto"},
  "encoding":{"x":{"datum":{"year":2022,"month":12,"date":5,"utc":true},"type":"temporal","scale":{"type":"utc","domain":[1569790800000,1672764480000],"nice":false},"axis":null},"y":{"datum":0.4185,"type":"quantitative","scale":{"type":"log","domain":[0.0717,2.82],"nice":false},"axis":null}}},
 {"data":{"values":[{}]},"mark":{"type":"text","text":"08:56:22","align":"left","baseline":"middle","color":"#ffffff","fontSize":7.5,"font":"Roboto"},
  "encoding":{"x":{"datum":{"year":2022,"month":12,"date":5,"utc":true},"type":"temporal","scale":{"type":"utc","domain":[1569790800000,1672764480000],"nice":false},"axis":null},"y":{"datum":0.397,"type":"quantitative","scale":{"type":"log","domain":[0.0717,2.82],"nice":false},"axis":null}}},
 {"data":{"values":[{}]},"mark":{"type":"text","text":"USD","align":"center","baseline":"middle","color":"#4a4e59","fontSize":7.5,"font":"Roboto"},
  "encoding":{"x":{"datum":{"year":2022,"month":12,"date":19,"utc":true},"type":"temporal","scale":{"type":"utc","domain":[1569790800000,1672764480000],"nice":false},"axis":null},"y":{"datum":2.673,"type":"quantitative","scale":{"type":"log","domain":[0.0717,2.82],"nice":false},"axis":null}}},
 {"data":{"values":[{}]},"mark":{"type":"text","text":"TV","align":"left","baseline":"middle","color":"#d1d4dc","fontSize":9,"fontWeight":"bold","font":"Roboto"},
  "encoding":{"x":{"datum":{"year":2019,"month":9,"date":30,"hours":14,"utc":true},"type":"temporal","scale":{"type":"utc","domain":[1569790800000,1672764480000],"nice":false},"axis":null},"y":{"datum":0.0683,"type":"quantitative","scale":{"type":"log","domain":[0.0717,2.82],"nice":false},"axis":null}}},
 {"data":{"values":[{}]},"mark":{"type":"text","text":"TradingView","align":"left","baseline":"middle","color":"#d1d4dc","fontSize":9,"font":"Roboto"},
  "encoding":{"x":{"datum":{"year":2019,"month":10,"date":12,"hours":8,"utc":true},"type":"temporal","scale":{"type":"utc","domain":[1569790800000,1672764480000],"nice":false},"axis":null},"y":{"datum":0.0683,"type":"quantitative","scale":{"type":"log","domain":[0.0717,2.82],"nice":false},"axis":null}}}
]},
{"data":{"name":"px"},"transform":[{"filter":"isValid(datum.c)"}],"mark":{"type":"point","opacity":0},
 "encoding":{
  "x":{"field":"d","type":"temporal","scale":{"type":"utc","domain":[1569790800000,1672764480000],"nice":false},
   "axis":{"orient":"bottom","offset":-18,"title":null,"grid":false,"ticks":false,"tickSize":0,"domain":false,"labelPadding":6,"labelFontSize":8,"labelFont":"Roboto","labelColor":"#4a4e59","labelFlush":false,"labelOverlap":false,
    "values":[{"year":2019,"month":11,"date":1,"utc":true},{"year":2020,"month":1,"date":1,"utc":true},{"year":2020,"month":3,"date":1,"utc":true},{"year":2020,"month":5,"date":1,"utc":true},{"year":2020,"month":7,"date":1,"utc":true},{"year":2020,"month":9,"date":1,"utc":true},{"year":2020,"month":11,"date":1,"utc":true},{"year":2021,"month":1,"date":1,"utc":true},{"year":2021,"month":3,"date":1,"utc":true},{"year":2021,"month":5,"date":1,"utc":true},{"year":2021,"month":7,"date":1,"utc":true},{"year":2021,"month":9,"date":1,"utc":true},{"year":2021,"month":11,"date":1,"utc":true},{"year":2022,"month":1,"date":1,"utc":true},{"year":2022,"month":3,"date":1,"utc":true},{"year":2022,"month":5,"date":1,"utc":true},{"year":2022,"month":7,"date":1,"utc":true},{"year":2022,"month":9,"date":1,"utc":true},{"year":2022,"month":11,"date":1,"utc":true}],
    "labelExpr":"utcmonth(datum.value) == 0 ? utcFormat(datum.value, '%Y') : utcFormat(datum.value, '%b')",
    "labelFontWeight":{"condition":{"test":"utcmonth(datum.value) == 0","value":"bold"},"value":"normal"}}},
  "y":{"field":"c","type":"quantitative","scale":{"type":"log","domain":[0.0717,2.82],"nice":false},
   "axis":{"orient":"right","offset":-42,"title":null,"grid":false,"ticks":false,"tickSize":0,"labelPadding":5,"labelAlign":"left","labelFontSize":8,"labelFont":"Roboto","labelColor":"#4a4e59","labelFlush":false,"labelOverlap":false,"domainColor":"#e0e3eb","format":".4f",
    "values":[2.8,2.5,2.2,2,1.8,1.6,1.45,1.3,1.15,1,0.9,0.8,0.72,0.64,0.58,0.52,0.46,0.37,0.33,0.3,0.27,0.245,0.22,0.2,0.18,0.16,0.145,0.131,0.119,0.107,0.097,0.088,0.08]}}}}
]
}
